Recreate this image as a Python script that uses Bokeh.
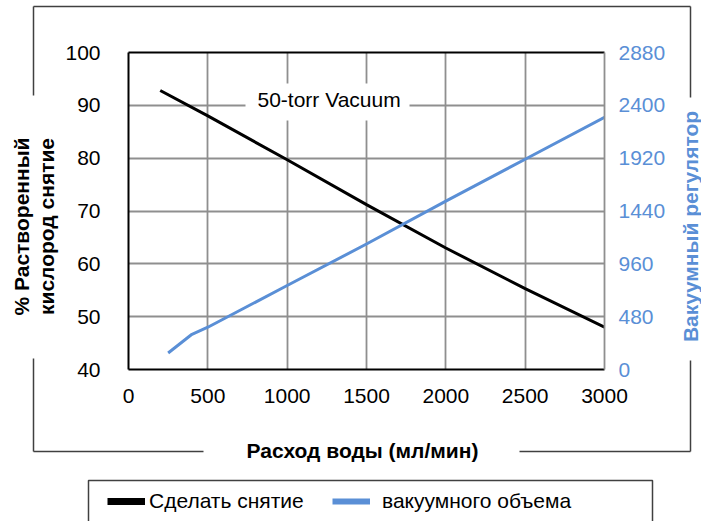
import math
from bokeh.plotting import figure
from bokeh.models import (Range1d, LinearAxis, FixedTicker, Label, BoxAnnotation,
                          Legend, LegendItem)
from bokeh.embed import file_html
from bokeh.resources import INLINE

# ---- data ----
x_ticks = [0, 500, 1000, 1500, 2000, 2500, 3000]
pct_ticks = [40, 50, 60, 70, 80, 90, 100]
vac_ticks = [0, 480, 960, 1440, 1920, 2400, 2880]

strip_flow = [200, 500, 1000, 1500, 2000, 2500, 3000]
strip_pct = [92.8, 88.0, 79.7, 71.2, 63.0, 55.3, 48.0]

vac_flow = [250, 400, 500, 1000, 1500, 2000, 2500, 3000]
vac_volume = [150, 320, 384, 763, 1140, 1530, 1910, 2290]

series_names = ["Сделать снятие", "вакуумного объема"]
x_title = "Расход воды (мл/мин)"
y_title_lines = ["% Растворенный", "кислород снятие"]
y2_title = "Вакуумный регулятор"
note_text = "50-torr Vacuum"

# ---- style ----
FONT = "Liberation Sans"
BLUE = "#5A8FD6"
GRID = "#8f8f8f"
FRAME = "#404040"
W, H = 701, 521

# ================= main chart =================
p = figure(width=W, height=H, output_backend="svg", toolbar_location=None,
           x_range=Range1d(0, 3000), y_range=Range1d(40, 100),
           min_border_left=128, min_border_right=97, min_border_top=52,
           min_border_bottom=152)
p.background_fill_color = "white"
p.border_fill_color = "white"
p.outline_line_color = None

p.extra_y_ranges = {"vac": Range1d(0, 2880)}

xa = p.xaxis[0]
xa.ticker = FixedTicker(ticks=x_ticks)
ya = p.yaxis[0]
ya.ticker = FixedTicker(ticks=pct_ticks)
for ax in (xa, ya):
    ax.axis_line_color = "black"
    ax.axis_line_width = 2
    ax.major_tick_line_color = None
    ax.major_tick_out = 0
    ax.major_tick_in = 0
    ax.minor_tick_line_color = None
    ax.major_label_text_font = FONT
    ax.major_label_text_font_size = "21px"
    ax.major_label_text_color = "black"
xa.major_label_standoff = 19
ya.major_label_standoff = 28

ra = LinearAxis(y_range_name="vac", ticker=FixedTicker(ticks=vac_ticks))
ra.axis_line_color = GRID
ra.axis_line_width = 1.8
ra.major_tick_line_color = None
ra.major_tick_out = 0
ra.major_tick_in = 0
ra.minor_tick_line_color = None
ra.major_label_text_font = FONT
ra.major_label_text_font_size = "21px"
ra.major_label_text_color = BLUE
ra.major_label_standoff = 14
p.add_layout(ra, "right")

ta = LinearAxis(ticker=FixedTicker(ticks=[]))
ta.axis_line_color = "black"
ta.axis_line_width = 2
ta.major_tick_line_color = None
ta.major_tick_out = 0
ta.minor_tick_line_color = None
ta.major_label_text_font_size = "0px"
p.add_layout(ta, "above")

p.xgrid.ticker = FixedTicker(ticks=x_ticks)
p.ygrid.ticker = FixedTicker(ticks=pct_ticks)
for g in (p.xgrid[0], p.ygrid[0]):
    g.grid_line_color = GRID
    g.grid_line_width = 1.8

p.line(strip_flow, strip_pct, line_color="black", line_width=3)
p.line(vac_flow, vac_volume, y_range_name="vac", line_color=BLUE, line_width=3)

# note inside the plot area (frame-relative screen units)
def SX(x):
    return x - 128

def SY(y):
    return 369 - y

p.add_layout(BoxAnnotation(left=SX(245), right=SX(409), top=SY(83), bottom=SY(120),
                           left_units="screen", right_units="screen",
                           top_units="screen", bottom_units="screen",
                           fill_color="white", fill_alpha=1, line_color=None))
p.add_layout(Label(x=SX(257), y=SY(99), x_units="screen", y_units="screen",
                   text=note_text, text_font=FONT, text_font_size="21px",
                   text_color="black", text_align="left", text_baseline="middle"))

# ================= overlay: titles, border, legend =================
d = figure(width=W, height=H, output_backend="svg", toolbar_location=None,
           x_range=Range1d(0, W), y_range=Range1d(H, 0),
           x_axis_location=None, y_axis_location=None,
           min_border=0, min_border_left=0, min_border_right=0,
           min_border_top=0, min_border_bottom=0)
d.background_fill_alpha = 0
d.border_fill_alpha = 0
d.outline_line_color = None
for g in d.grid:
    g.visible = False

# outer chart border with gaps for the titles
d.segment(x0=[33, 33, 33, 690, 690, 33, 519],
          y0=[6, 6, 358, 6, 360, 451, 451],
          x1=[690, 33, 33, 690, 690, 203, 690],
          y1=[6, 95, 451, 97, 451, 451, 451],
          line_color=FRAME, line_width=1.5)

# titles
d.add_layout(Label(x=362, y=450, text=x_title, text_font=FONT, text_font_size="21px",
                   text_font_style="bold", text_color="black",
                   text_align="center", text_baseline="middle"))
for line_text, cx in zip(y_title_lines, [20.5, 46]):
    d.add_layout(Label(x=cx, y=226, text=line_text, text_font=FONT, text_font_size="21px",
                       text_font_style="bold", text_color="black", angle=math.pi / 2,
                       text_align="center", text_baseline="middle"))
d.add_layout(Label(x=689.5, y=226, text=y2_title, text_font=FONT, text_font_size="21px",
                   text_font_style="bold", text_color=BLUE, angle=math.pi / 2,
                   text_align="center", text_baseline="middle"))

# legend box
d.quad(left=[88], right=[652], top=[480], bottom=[540], fill_alpha=0,
       line_color=FRAME, line_width=1.5)

# legend swatch renderers: hidden copies of the series (only their legend glyph shows)
leg_black = d.line(strip_flow, strip_pct, line_color="black", line_width=7, visible=False)
leg_blue = d.line(vac_flow, vac_volume, line_color=BLUE, line_width=6, visible=False)

def make_legend(name, rend, gx, standoff):
    lg = Legend(items=[LegendItem(label=name, renderers=[rend])],
                location=(gx, H - 513), orientation="horizontal",
                padding=0, margin=0, spacing=0, glyph_width=38, glyph_height=20,
                label_height=20, label_standoff=standoff,
                label_text_font=FONT, label_text_font_size="21px",
                label_text_color="black", border_line_alpha=0,
                background_fill_alpha=0, inactive_fill_alpha=0)
    d.add_layout(lg, "center")

make_legend(series_names[0], leg_black, 107, 4)
make_legend(series_names[1], leg_blue, 332, 12)

d.styles = {"position": "absolute", "top": "0px", "left": "0px"}

open("out.html", "w").write(file_html([p, d], INLINE))
